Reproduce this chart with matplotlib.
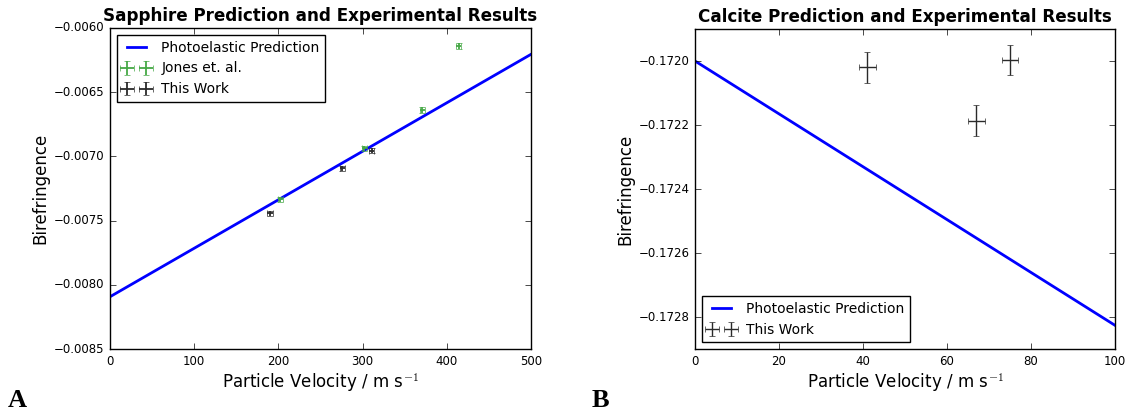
import numpy as np
import matplotlib
matplotlib.use("Agg")
import matplotlib.pyplot as plt

plt.style.use("classic")

# Sapphire
sap_line_v = [0, 500]
sap_line_b = [-0.008093, -0.006205]
jones_v = [202, 302, 371, 414]
jones_b = [-0.007334, -0.006937, -0.006639, -0.006140]
jones_verr = [3, 3, 3, 3]
jones_berr = [0.00002, 0.00002, 0.00002, 0.00002]
sap_work_v = [190, 276, 311]
sap_work_b = [-0.007443, -0.007093, -0.006955]
sap_work_verr = [3, 3, 3]
sap_work_berr = [0.00002, 0.00002, 0.00002]

# Calcite
cal_line_v = [0, 100]
cal_line_b = [-0.17200, -0.172826]
cal_work_v = [41, 67, 75]
cal_work_b = [-0.172020, -0.172187, -0.171997]
cal_work_verr = [2, 2, 2]
cal_work_berr = [0.000048, 0.000048, 0.000048]

green = "#45a845"
black = "#2a2a2a"
xlabel = "Particle Velocity / m s$^{-1}$"

fig = plt.figure(figsize=(11.28, 4.15), dpi=100, facecolor="white")
ax1 = fig.add_axes([110 / 1128, 1 - 349 / 415, 421 / 1128, 321 / 415])
ax2 = fig.add_axes([695 / 1128, 1 - 349 / 415, 420 / 1128, 320 / 415])

# panel A
ax1.plot(sap_line_v, sap_line_b, color="blue", lw=2, label="Photoelastic Prediction")
ax1.errorbar(jones_v, jones_b, xerr=jones_verr, yerr=jones_berr, fmt="none",
             ecolor=green, elinewidth=1.3, capsize=2, label="Jones et. al.")
ax1.errorbar(sap_work_v, sap_work_b, xerr=sap_work_verr, yerr=sap_work_berr, fmt="none",
             ecolor=black, elinewidth=1.3, capsize=2, label="This Work")
ax1.set_xlim(0, 500)
ax1.set_ylim(-0.0085, -0.0060)
ax1.set_yticks(np.arange(-0.0085, -0.00599, 0.0005))
ax1.set_title("Sapphire Prediction and Experimental Results", fontsize=12.1, fontweight="bold")
ax1.set_xlabel(xlabel, fontsize=12, labelpad=3)
ax1.set_ylabel("Birefringence", fontsize=12, labelpad=3)
ax1.tick_params(labelsize=8.5)
ax1.legend(loc="upper left", fontsize=10, numpoints=2, fancybox=False)

# panel B
ax2.plot(cal_line_v, cal_line_b, color="blue", lw=2, label="Photoelastic Prediction")
ax2.errorbar(cal_work_v, cal_work_b, xerr=cal_work_verr, yerr=cal_work_berr, fmt="none",
             ecolor=black, capsize=2, label="This Work")
ax2.set_xlim(0, 100)
ax2.set_ylim(-0.1729, -0.1719)
ax2.set_yticks([-0.1728, -0.1726, -0.1724, -0.1722, -0.1720])
ax2.ticklabel_format(axis="y", useOffset=False)
ax2.set_title("Calcite Prediction and Experimental Results", fontsize=12.1, fontweight="bold")
ax2.set_xlabel(xlabel, fontsize=12, labelpad=3)
ax2.set_ylabel("Birefringence", fontsize=12, labelpad=3)
ax2.tick_params(labelsize=8.5)
ax2.legend(loc="lower left", fontsize=10, numpoints=2, fancybox=False)

fig.text(8 / 1128, 1 - 412 / 415, "A", fontsize=19, fontweight="bold",
         family="Liberation Serif", ha="left", va="bottom")
fig.text(592 / 1128, 1 - 412 / 415, "B", fontsize=19, fontweight="bold",
         family="Liberation Serif", ha="left", va="bottom")

fig.savefig("out.png", dpi=100, facecolor="white")
